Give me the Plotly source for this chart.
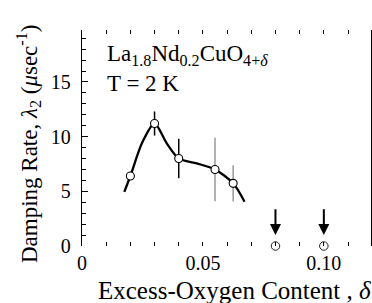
import plotly.graph_objects as go

# measured points
x_pts = [0.02, 0.03, 0.04, 0.055, 0.0625]
y_pts = [6.4, 11.2, 8.0, 7.0, 5.73]
err_pts = [0.0, 1.1, 1.8, 2.9, 1.65]
err_group = ["black", "black", "black", "gray", "gray"]

# points with zero damping (upper limits marked by arrows)
x_zero = [0.08, 0.10]
y_zero = [0.0, 0.0]
arrow_top = 3.5
arrow_tip = 1.0

# guide-to-the-eye curve
fit_x = [0.0175, 0.02, 0.025, 0.03, 0.035, 0.04, 0.0475, 0.055, 0.0625, 0.0672]
fit_y = [4.95, 6.4, 9.5, 11.2, 9.4, 8.0, 7.55, 7.0, 5.73, 4.05]

x_tickvals = [0, 0.05, 0.10]
x_ticktext = ["0", "0.05", "0.10"]
y_tickvals = [0, 5, 10, 15]

FONT = "Liberation Serif, Times New Roman, serif"

fig = go.Figure()

fig.add_trace(go.Scatter(x=fit_x, y=fit_y, mode="lines",
                         line=dict(color="black", width=2.3, shape="spline", smoothing=0.8),
                         hoverinfo="skip", showlegend=False))

for grp, col in [("black", "black"), ("gray", "#999999")]:
    xs = [x for x, g in zip(x_pts, err_group) if g == grp]
    ys = [y for y, g in zip(y_pts, err_group) if g == grp]
    es = [e for e, g in zip(err_pts, err_group) if g == grp]
    fig.add_trace(go.Scatter(x=xs, y=ys, mode="markers",
                             marker=dict(size=1, color="rgba(0,0,0,0)"),
                             error_y=dict(type="data", array=es, visible=True,
                                          color=col, thickness=1.5, width=0),
                             showlegend=False, hoverinfo="skip"))

fig.add_trace(go.Scatter(x=x_pts, y=y_pts, mode="markers",
                         marker=dict(size=8, color="white", line=dict(color="black", width=1.1)),
                         showlegend=False))
fig.add_trace(go.Scatter(x=x_zero, y=y_zero, mode="markers", cliponaxis=False,
                         marker=dict(size=8.5, color="white", line=dict(color="#222222", width=1)),
                         showlegend=False))

for xa in x_zero:
    fig.add_annotation(x=xa, y=arrow_tip, ax=xa, ay=arrow_top, xref="x", yref="y",
                       axref="x", ayref="y", text="", showarrow=True,
                       arrowhead=2, arrowsize=1.1, arrowwidth=2, arrowcolor="black",
                       standoff=0, startstandoff=0)

fig.add_annotation(xref="paper", yref="paper", x=0.08, y=0.96, xanchor="left", yanchor="top",
                   align="left", showarrow=False,
                   text="La<sub>1.8</sub>Nd<sub>0.2</sub>CuO<sub>4+<i>δ</i></sub><br>T = 2 K",
                   font=dict(family=FONT, size=23, color="black"))

# axis titles
fig.add_annotation(xref="paper", yref="paper", x=0.526, y=0, xanchor="center", yanchor="top",
                   yshift=-29, showarrow=False,
                   text="Excess-Oxygen Content , <i>δ</i>",
                   font=dict(family=FONT, size=25, color="black"))
fig.add_annotation(xref="paper", yref="paper", x=0, y=0.472, xanchor="center", yanchor="middle",
                   xshift=-54, textangle=-90, showarrow=False,
                   text="Damping Rate, <i>λ</i><sub>2</sub> (<i>μ</i>sec<sup>-1</sup>)",
                   font=dict(family=FONT, size=23, color="black"))

fig.update_layout(
    width=372, height=303,
    margin=dict(l=82, r=1, t=30, b=57, autoexpand=False),
    paper_bgcolor="white", plot_bgcolor="white",
    font=dict(family=FONT, color="black"),
    showlegend=False,
)

fig.update_xaxes(
    range=[0, 0.1195], showgrid=False, zeroline=False, showline=False, automargin=False,
    tickmode="array", tickvals=x_tickvals, ticktext=x_ticktext,
    ticks="inside", ticklen=4, tickwidth=1.2, tickcolor="black", mirror="ticks",
    minor=dict(dtick=0.01, tick0=0, ticks="inside", ticklen=4, tickwidth=1.2, tickcolor="black"),
    tickfont=dict(family=FONT, size=20), ticklabelstandoff=3,
)

fig.update_yaxes(
    range=[0, 19.75], showgrid=False, zeroline=False, showline=True, automargin=False,
    linecolor="black", linewidth=1.3, mirror=True,
    tickmode="array", tickvals=y_tickvals,
    ticks="inside", ticklen=6, tickwidth=1.2, tickcolor="black",
    minor=dict(dtick=1, tick0=0, ticks="inside", ticklen=3.5, tickwidth=1, tickcolor="black"),
    tickfont=dict(family=FONT, size=20), ticklabelstandoff=6,
)

fig.write_html("out.html", config={"displayModeBar": False},
               post_script="document.body.style.margin='0';document.body.style.padding='0';")
